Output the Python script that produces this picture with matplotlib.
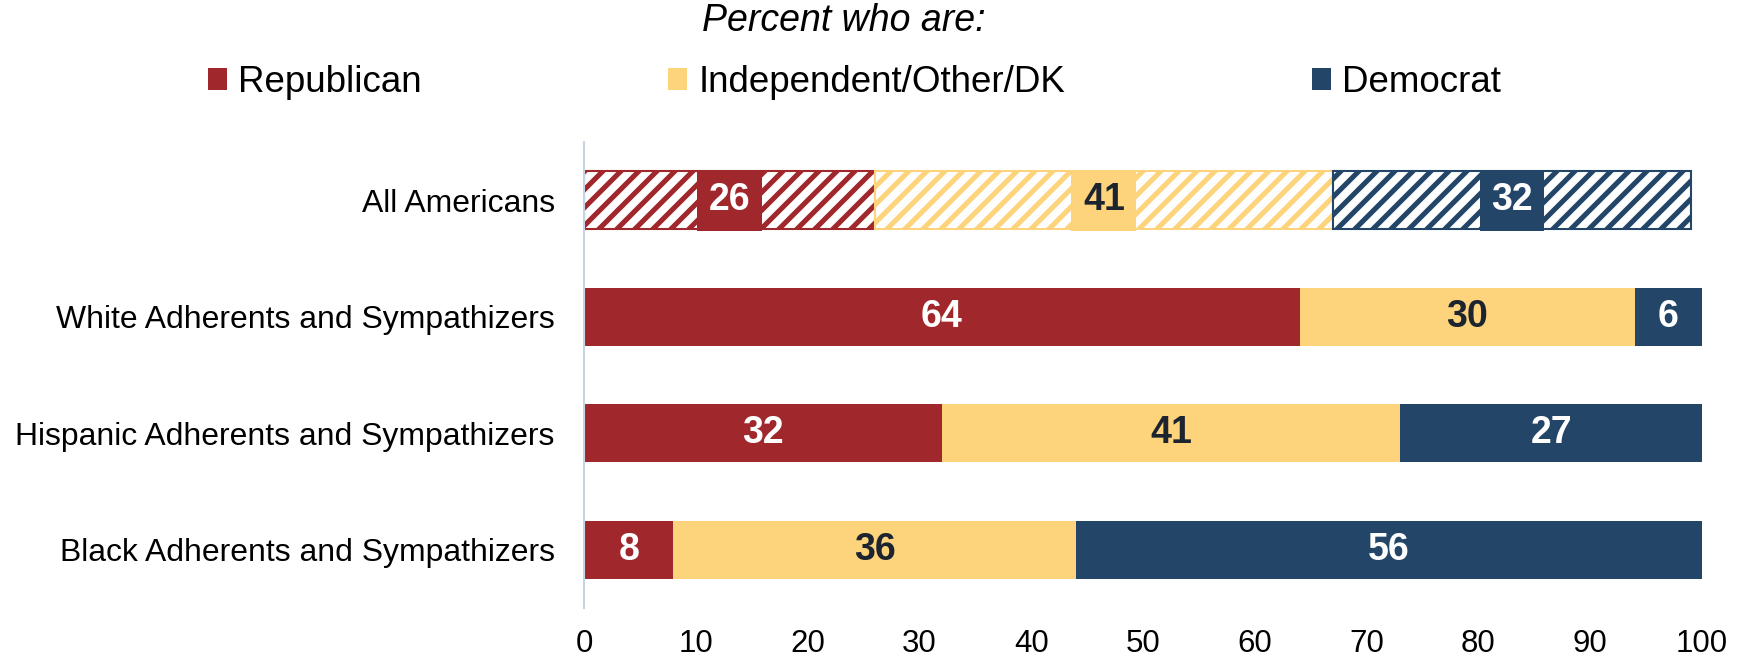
import matplotlib.pyplot as plt
from matplotlib.patches import Patch

# render at dpi 108 so the "//" hatch gets the stripe spacing of the
# reference; all sizes are given at dpi 100 and scaled by S
DPI = 108
S = 100 / DPI

plt.rcParams["font.family"] = ["Liberation Sans", "DejaVu Sans"]
plt.rcParams["hatch.linewidth"] = 3.4

# data
groups = [
    "All Americans",
    "White Adherents and Sympathizers",
    "Hispanic Adherents and Sympathizers",
    "Black Adherents and Sympathizers",
]
series = ["Republican", "Independent/Other/DK", "Democrat"]
republican = [26, 64, 32, 8]
independent = [41, 30, 41, 36]
democrat = [32, 6, 27, 56]

colors = ["#A0282C", "#FDD37B", "#234668"]
label_colors = ["white", "#1C2430", "white"]

fig = plt.figure(figsize=(1746 / DPI, 661 / DPI), dpi=DPI)
ax = fig.add_axes([0.3345, 0.0802, 0.6403, 0.705])

values = [republican, independent, democrat]
left = [0] * len(groups)
box_w = 5.8
for s, vals in enumerate(values):
    for i, v in enumerate(vals):
        center = left[i] + v / 2
        if i == 0:
            # "All Americans" row is hatched, with a solid box behind the number
            ax.barh(i, v, left=left[i], height=0.5, facecolor="white",
                    edgecolor=colors[s], hatch="//", linewidth=1.5 * S)
            ax.barh(i, box_w, left=center - box_w / 2, height=0.52,
                    color=colors[s], linewidth=0)
        else:
            ax.barh(i, v, left=left[i], height=0.5, color=colors[s],
                    linewidth=0)
        ax.text(center, i, str(v), ha="center", va="center",
                fontsize=27 * S, fontweight="bold", color=label_colors[s])
        left[i] += v

ax.set_xlim(0, 100)
ax.set_ylim(3.5, -0.5)
ax.set_yticks(range(len(groups)))
ax.set_yticklabels(groups, fontsize=23 * S)
ax.set_xticks(range(0, 101, 10))
ax.tick_params(axis="x", length=0, pad=15 * S, labelsize=22.5 * S)
ax.tick_params(axis="y", length=0, pad=21 * S)
for sp in ["top", "right", "bottom"]:
    ax.spines[sp].set_visible(False)
ax.spines["left"].set_color("#C5D5E6")
ax.spines["left"].set_linewidth(1.5 * S)

fig.text(0.4834, 0.9675, "Percent who are:", ha="center", va="center",
         fontsize=27 * S, style="italic")
handles = [Patch(facecolor=c, edgecolor="none") for c in colors]
fig.legend(handles, series, loc="center", bbox_to_anchor=(0.4894, 0.875),
           ncol=3, frameon=False, fontsize=26.5 * S, handlelength=0.52,
           handleheight=0.52, handletextpad=0.3, columnspacing=6.7,
           borderpad=0, borderaxespad=0)

fig.savefig("out.png", dpi=DPI)
